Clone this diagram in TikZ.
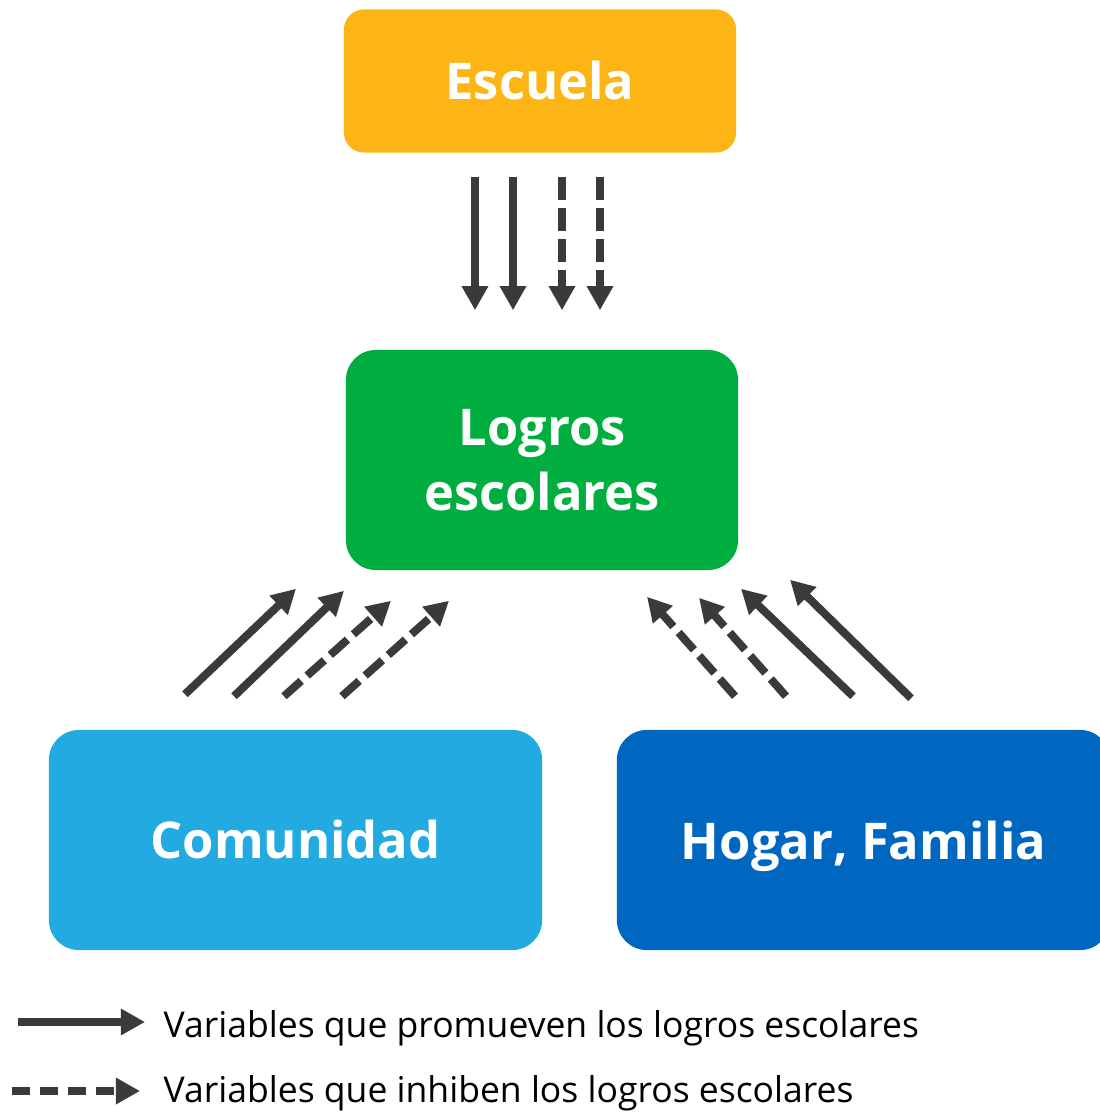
\documentclass[tikz,border=0pt]{standalone}
\usepackage{fontspec}
\setmainfont{Open Sans}
\usepackage{xcolor}
\usetikzlibrary{positioning,calc,arrows.meta}

\definecolor{escuelaorange}{HTML}{FDB515}
\definecolor{logrosgreen}{HTML}{00AE3F}
\definecolor{comunidadblue}{HTML}{23AAE1}
\definecolor{hogarblue}{HTML}{0067C0}
\definecolor{arrowgray}{HTML}{3C3A38}

\begin{document}
\begin{tikzpicture}[
    x=0.01cm, y=-0.01cm,
    box/.style={rounded corners=0.3cm, text=white, align=center, inner sep=0pt,
        font=\bfseries\fontsize{14.4}{18.3}\selectfont},
    promueve/.style={line width=0.08cm, draw=arrowgray,
        -{Triangle[length=0.24cm,width=0.25cm]}},
    inhibe/.style={promueve, dash pattern=on 0.23cm off 0.08cm},
    legendtext/.style={anchor=base west, inner sep=0pt,
        font=\fontsize{10.1}{12}\selectfont}
]
    \useasboundingbox (0,0) rectangle (1099,1113);

    % the four boxes
    \node[box, fill=escuelaorange, rounded corners=0.2cm,
        minimum width=3.92cm, minimum height=1.43cm] (escuela) at (540,81) {Escuela};
    \node[box, fill=logrosgreen,
        minimum width=3.92cm, minimum height=2.2cm] (logros) at (542,460) {Logros\\escolares};
    \node[box, fill=comunidadblue,
        minimum width=4.93cm, minimum height=2.2cm] (comunidad) at (295.5,840) {Comunidad};
    \node[box, fill=hogarblue, text depth=0pt,
        minimum width=4.93cm, minimum height=2.2cm] (hogar) at (863.5,840) {Hogar, Familia};

    % escuela -> logros
    \foreach \dx in {-65,-27}
        \draw[promueve] ($(escuela.south)+(\dx,24)$) -- ($(escuela.south)+(\dx,157)$);
    \foreach \dx in {22,60}
        \draw[inhibe] ($(escuela.south)+(\dx,24)$) -- ($(escuela.south)+(\dx,157)$);

    % comunidad -> logros
    \draw[promueve] ($(comunidad.north)+(-110.5,-35)$) -- ($(logros.south)+(-246,18)$);
    \draw[promueve] ($(comunidad.north)+(-61.5,-33)$) -- ($(logros.south)+(-198,20)$);
    \draw[inhibe] ($(comunidad.north)+(-11.5,-33)$) -- ($(logros.south)+(-151,30)$);
    \draw[inhibe] ($(comunidad.north)+(46.5,-33)$) -- ($(logros.south)+(-93,30)$);

    % hogar -> logros
    \draw[inhibe] ($(hogar.north)+(-128.5,-33)$) -- ($(logros.south)+(105,26)$);
    \draw[inhibe] ($(hogar.north)+(-77.5,-33)$) -- ($(logros.south)+(157,27)$);
    \draw[promueve] ($(hogar.north)+(-10.5,-33)$) -- ($(logros.south)+(199,18)$);
    \draw[promueve] ($(hogar.north)+(47.5,-31)$) -- ($(logros.south)+(248,9)$);

    % legend
    \node[legendtext] (promtext) at (163,1037) {Variables que promueven los logros escolares};
    \node[legendtext] (inhibtext) at (163,1102) {Variables que inhiben los logros escolares};
    \coordinate (promtail) at (18,1022);
    \coordinate (inhibtail) at (12,1091);
    \draw[promueve] (promtail) -- (promtail -| {$(promtext.west)+(-18,0)$});
    \draw[promueve, dash pattern=on 0.18cm off 0.1cm]
        (inhibtail) -- (inhibtail -| {$(inhibtext.west)+(-23,0)$});
\end{tikzpicture}
\end{document}
